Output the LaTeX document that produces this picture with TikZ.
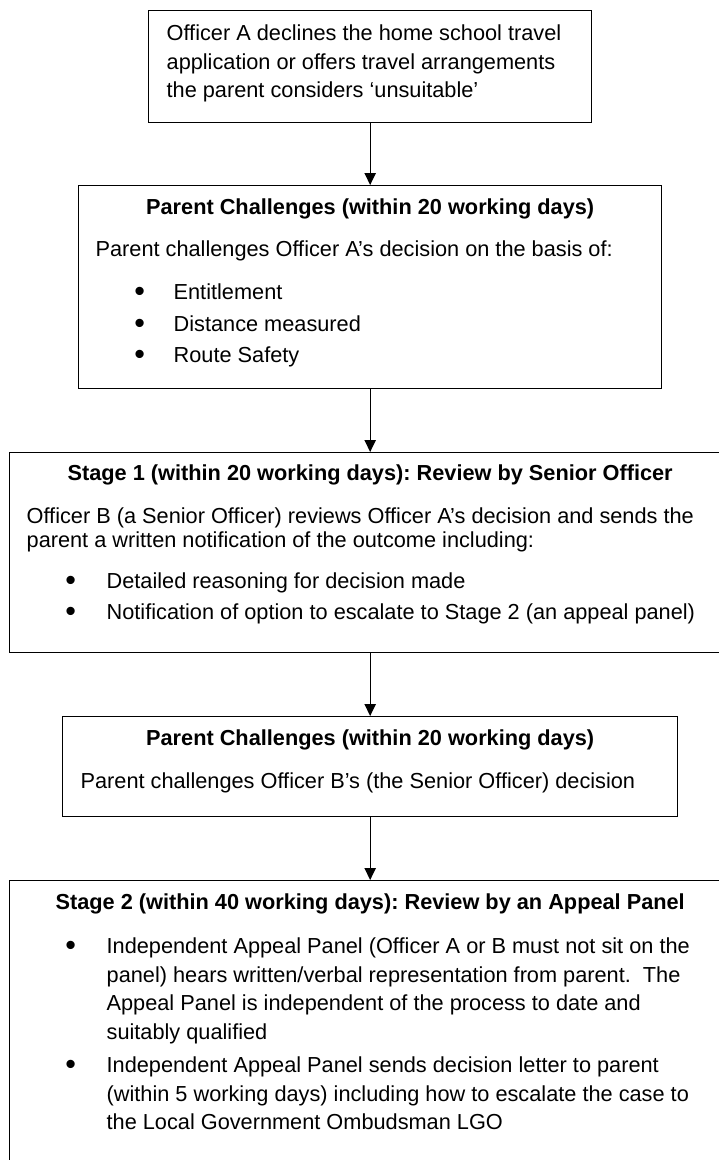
\documentclass[tikz,border=0pt]{standalone}
\usepackage{fontspec}
\setmainfont{Liberation Sans}
\usetikzlibrary{arrows.meta}
\newlength\px
\setlength\px{0.75pt}
\newcommand{\bul}[1][36]{\hspace*{61\px}\makebox[0pt]{\raisebox{-0.09em}{\scalebox{1.4}{\textbullet}}}\hspace*{#1\px}}
\newcommand{\ind}{\hspace*{97\px}}

\begin{document}
\begin{tikzpicture}[x=0.75pt,y=-0.75pt,>={Triangle[length=9pt,width=8.5pt]},
  stepbox/.style={draw, line width=1pt, anchor=north west, inner sep=0pt, font=\fontsize{16.3}{24}\selectfont\frenchspacing},
  flow/.style={->, line width=1pt}]
\useasboundingbox (0,0) rectangle (718,1160);

\node[stepbox] (decline) at (148,10) {\parbox[t][112\px][t]{443\px}{\setlength{\baselineskip}{28.5\px}%
\hspace*{18\px}\rule{0pt}{30\px}Officer A declines the home school travel\\
\hspace*{18\px}application or offers travel arrangements\\
\hspace*{18\px}the parent considers ‘unsuitable’}};

\node[stepbox] (challengeA) at (78,185) {\parbox[t][203\px][t]{583\px}{\setlength{\baselineskip}{31.5\px}%
\rule{0pt}{29\px}\makebox[\linewidth]{\bfseries Parent Challenges (within 20 working days)}\\[10.5\px]
\hspace*{17\px}Parent challenges Officer A’s decision on the basis of:\\[11.5\px]
\bul[34]Entitlement\\
\bul[34]Distance measured\\
\bul[34]Route Safety}};

\node[stepbox] (stageone) at (9,452) {\parbox[t][200\px][t]{721\px}{\setlength{\baselineskip}{24\px}%
\rule{0pt}{28\px}\makebox[\linewidth]{\bfseries Stage 1 (within 20 working days): Review by Senior Officer}\\[19\px]
\hspace*{17\px}Officer B (a Senior Officer) reviews Officer A’s decision and sends the\\
\hspace*{17\px}parent a written notification of the outcome including:\\[17\px]
\bul Detailed reasoning for decision made\\[7\px]
\bul Notification of option to escalate to Stage 2 (an appeal panel)}};

\node[stepbox] (challengeB) at (62,716) {\parbox[t][100\px][t]{615\px}{\setlength{\baselineskip}{24\px}%
\rule{0pt}{29\px}\makebox[\linewidth]{\bfseries Parent Challenges (within 20 working days)}\\[19\px]
\hspace*{18\px}Parent challenges Officer B’s (the Senior Officer) decision}};

\node[stepbox] (stagetwo) at (9,880) {\parbox[t][320\px][t]{721\px}{\setlength{\baselineskip}{28.6\px}%
\rule{0pt}{29\px}\makebox[\linewidth]{\bfseries Stage 2 (within 40 working days): Review by an Appeal Panel}\\[15.4\px]
\bul Independent Appeal Panel (Officer A or B must not sit on the\\
\ind panel) hears written/verbal representation from parent.~ The\\
\ind Appeal Panel is independent of the process to date and\\
\ind suitably qualified\\[4.4\px]
\bul Independent Appeal Panel sends decision letter to parent\\
\ind (within 5 working days) including how to escalate the case to\\
\ind the Local Government Ombudsman LGO}};

\draw[flow] (decline) -- (challengeA);
\draw[flow] (challengeA) -- (stageone);
\draw[flow] (stageone) -- (challengeB);
\draw[flow] (challengeB) -- (stagetwo);
\end{tikzpicture}
\end{document}
